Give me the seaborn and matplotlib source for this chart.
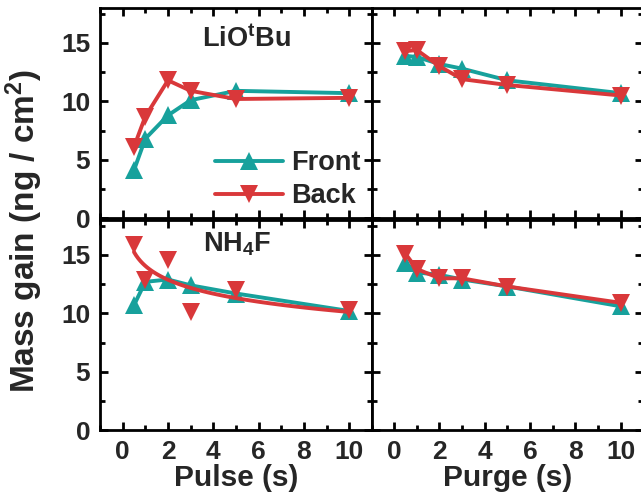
import numpy as np
import pandas as pd
import matplotlib
matplotlib.use('Agg')
import matplotlib.pyplot as plt
import seaborn as sns
from matplotlib.ticker import MultipleLocator

# datos
x_time = [0.5, 1, 2, 3, 5, 10]

lio_pulse_front = [4.1, 6.8, 8.8, 10.1, 10.9, 10.7]
lio_pulse_back = [6.1, 8.7, 11.8, 10.9, 10.2, 10.3]
lio_purge_front = [13.9, 13.8, 13.2, 12.8, 11.8, 10.7]
lio_purge_back = [14.3, 14.4, 13.0, 11.9, 11.4, 10.5]

nh4f_pulse_front = [10.7, 12.7, 12.9, 12.4, 11.7, 10.2]
nh4f_pulse_back = [15.9, 12.9, 14.6, 10.1, 12.0, 10.3]
nh4f_purge_front = [14.3, 13.5, 13.3, 12.9, 12.3, 10.6]
nh4f_purge_back = [15.1, 13.8, 13.0, 13.0, 12.3, 10.9]

teal = '#17a19c'
red = '#d9383a'

sns.set_theme(style='ticks')
plt.rcParams['font.family'] = ['Liberation Sans', 'DejaVu Sans']
plt.rcParams['font.weight'] = 'bold'
plt.rcParams['mathtext.fontset'] = 'custom'
plt.rcParams['mathtext.rm'] = 'Liberation Sans:bold'
plt.rcParams['mathtext.bf'] = 'Liberation Sans:bold'
plt.rcParams['mathtext.default'] = 'bf'

fig = plt.figure(figsize=(6.41, 5.0), dpi=100)
w, h = 0.4243, 0.42
x_left, x_right = 100 / 641, 371.5 / 641
ax_tl = fig.add_axes([x_left, 0.564, w, h])
ax_tr = fig.add_axes([x_right, 0.564, w, h])
ax_bl = fig.add_axes([x_left, 0.14, w, h])
ax_br = fig.add_axes([x_right, 0.14, w, h])

ms = 12.5
lw = 2.8


def draw(ax, front, back, fit_back=False):
    df = pd.DataFrame({'x': x_time, 'front': front, 'back': back})
    sns.lineplot(data=df, x='x', y='front', ax=ax, color=teal, lw=lw,
                 marker='^', markersize=ms, markeredgewidth=0, label='Front')
    if fit_back:
        # curva de ajuste en lugar de unir los puntos
        sns.regplot(data=df, x='x', y='back', ax=ax, logx=True, ci=None,
                    scatter=False, color=red, line_kws={'lw': lw})
        sns.lineplot(data=df, x='x', y='back', ax=ax, color=red, lw=0,
                     marker='v', markersize=ms, markeredgewidth=0, label='Back')
    else:
        sns.lineplot(data=df, x='x', y='back', ax=ax, color=red, lw=lw,
                     marker='v', markersize=ms, markeredgewidth=0, label='Back')


draw(ax_tl, lio_pulse_front, lio_pulse_back)
draw(ax_tr, lio_purge_front, lio_purge_back)
draw(ax_bl, nh4f_pulse_front, nh4f_pulse_back, fit_back=True)
draw(ax_br, nh4f_purge_front, nh4f_purge_back)

for ax in [ax_tl, ax_tr, ax_bl, ax_br]:
    ax.set_xlim(-1, 11)
    ax.set_ylim(0, 18)
    ax.xaxis.set_major_locator(MultipleLocator(2))
    ax.xaxis.set_minor_locator(MultipleLocator(1))
    ax.yaxis.set_major_locator(MultipleLocator(5))
    ax.yaxis.set_minor_locator(MultipleLocator(2.5))
    ax.tick_params(which='both', direction='in', top=True, right=True,
                   width=2, labelsize=19, pad=7, color='black')
    ax.tick_params(which='major', length=6)
    ax.tick_params(which='minor', length=3.5)
    for s in ax.spines.values():
        s.set_linewidth(2)
        s.set_color('black')
    ax.set_xlabel('')
    ax.set_ylabel('')
    for lab in ax.get_xticklabels() + ax.get_yticklabels():
        lab.set_fontweight('bold')
    if ax.get_legend() is not None:
        ax.get_legend().remove()

for ax in [ax_tl, ax_tr]:
    ax.tick_params(labelbottom=False)
for ax in [ax_tr, ax_br]:
    ax.tick_params(labelleft=False)

# legenda solo en el primer panel
leg = ax_tl.legend(loc='upper left', frameon=False,
                   prop={'family': 'Liberation Sans', 'weight': 'bold', 'size': 19.5},
                   handlelength=2.5, handletextpad=0.3, labelspacing=0.25,
                   borderpad=0, borderaxespad=0,
                   bbox_to_anchor=(0.424, 0.322))

ax_tl.text(0.54, 0.85, 'LiO$^t$Bu', transform=ax_tl.transAxes, ha='center',
           va='center', fontsize=19.5, fontweight='bold')
ax_bl.text(0.505, 0.885, 'NH$_4$F', transform=ax_bl.transAxes, ha='center',
           va='center', fontsize=19.5, fontweight='bold')

ax_bl.set_xlabel('Pulse (s)', fontsize=21.5, fontweight='bold', labelpad=0)
ax_br.set_xlabel('Purge (s)', fontsize=21.5, fontweight='bold', labelpad=0)

fig.text(0.038, 0.538, 'Mass gain (ng / cm$^2$)', rotation=90, ha='center',
         va='center', fontsize=24, fontweight='bold')

fig.savefig('out.png', dpi=100)
